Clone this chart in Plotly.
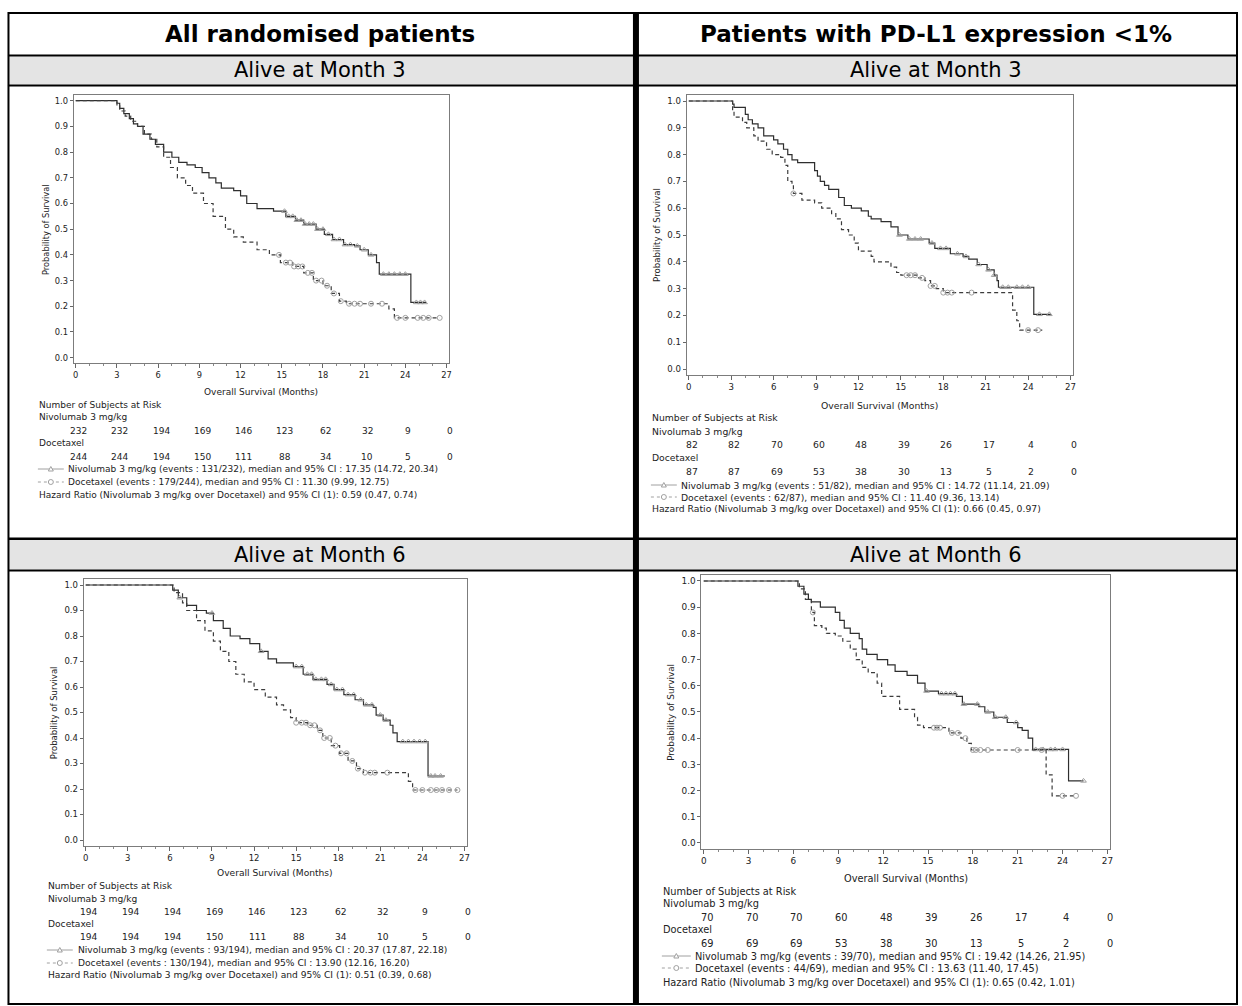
import numpy as np
import plotly.graph_objects as go

W, H = 1242, 1006

# ---------------- data ----------------
months = [0, 3, 6, 9, 12, 15, 18, 21, 24, 27]
yticks = [0.0, 0.1, 0.2, 0.3, 0.4, 0.5, 0.6, 0.7, 0.8, 0.9, 1.0]

col_headers = ["All randomised patients", "Patients with PD-L1 expression &lt;1%"]
row_headers = ["Alive at Month 3", "Alive at Month 6"]

# --- top-left: all randomised, alive at month 3
tl_niv_t = [0, 3.0, 3.2, 3.5, 3.9, 4.2, 4.5, 4.9, 5.4, 5.8, 6.4, 7.0, 7.5, 8.1, 8.7, 9.2, 9.7, 10.2, 10.6,
            11.5, 12.0, 12.45, 13.2, 14.4, 15.3, 16.0, 16.6, 17.5, 18.1, 18.7, 19.5, 20.3, 20.7, 21.3, 21.9,
            22.1, 24.4, 25.5]
tl_niv_s = [1.0, 0.99, 0.97, 0.95, 0.93, 0.91, 0.90, 0.87, 0.85, 0.83, 0.80, 0.78, 0.76, 0.75, 0.74, 0.72,
            0.70, 0.68, 0.66, 0.65, 0.63, 0.60, 0.58, 0.57, 0.55, 0.535, 0.52, 0.50, 0.48, 0.46, 0.44, 0.435,
            0.42, 0.40, 0.37, 0.325, 0.215, 0.215]
tl_niv_c = [15.2, 15.5, 15.8, 16.1, 16.4, 16.7, 17.0, 17.3, 17.6, 18.0, 18.4, 18.8, 19.2, 19.6, 20.0, 20.5,
            21.0, 21.5, 22.4, 22.8, 23.2, 23.6, 24.0, 24.8, 25.1, 25.4]
tl_doc_t = [0, 3.0, 3.2, 3.6, 4.0, 4.5, 5.0, 5.5, 5.9, 6.4, 6.9, 7.4, 8.0, 8.5, 9.3, 10.0, 10.9, 11.5, 12.2,
            13.2, 14.1, 14.9, 15.8, 16.6, 17.3, 18.0, 18.6, 19.2, 19.7, 22.8, 23.2, 26.5]
tl_doc_s = [1.0, 0.98, 0.96, 0.94, 0.92, 0.90, 0.87, 0.85, 0.82, 0.78, 0.74, 0.70, 0.67, 0.64, 0.60, 0.55,
            0.50, 0.47, 0.45, 0.42, 0.40, 0.37, 0.355, 0.33, 0.30, 0.28, 0.25, 0.22, 0.21, 0.19, 0.155, 0.155]
tl_doc_c = [14.8, 15.3, 15.6, 15.9, 16.2, 16.5, 16.9, 17.2, 17.5, 17.9, 18.3, 18.8, 19.3, 19.9, 20.3, 20.7,
            21.5, 22.3, 23.4, 24.0, 24.9, 25.3, 25.7, 26.5]
tl_niv_risk = [232, 232, 194, 169, 146, 123, 62, 32, 9, 0]
tl_doc_risk = [244, 244, 194, 150, 111, 88, 34, 10, 5, 0]
tl_leg = ["Nivolumab 3 mg/kg (events : 131/232), median and 95% CI : 17.35 (14.72, 20.34)",
          "Docetaxel (events : 179/244), median and 95% CI : 11.30 (9.99, 12.75)",
          "Hazard Ratio (Nivolumab 3 mg/kg over Docetaxel) and 95% CI (1): 0.59 (0.47, 0.74)"]

# --- top-right: PD-L1 <1%, alive at month 3
tr_niv_t = [0, 3.1, 3.2, 4.0, 4.2, 4.5, 4.9, 5.3, 6.0, 6.3, 6.7, 7.0, 7.3, 7.7, 8.9, 9.1, 9.3, 9.6, 9.9, 10.6,
            11.0, 11.5, 12.2, 12.7, 12.9, 13.6, 14.3, 14.8, 15.5, 17.0, 17.4, 18.5, 19.4, 19.8, 20.4, 21.1,
            21.6, 21.8, 21.9, 24.4, 25.6]
tr_niv_s = [1.0, 0.988, 0.976, 0.95, 0.93, 0.915, 0.90, 0.87, 0.855, 0.84, 0.82, 0.80, 0.78, 0.77, 0.74,
            0.72, 0.70, 0.685, 0.67, 0.64, 0.61, 0.60, 0.59, 0.57, 0.56, 0.55, 0.53, 0.50, 0.485, 0.47, 0.45,
            0.43, 0.42, 0.41, 0.39, 0.37, 0.35, 0.33, 0.305, 0.204, 0.204]
tr_niv_c = [14.9, 15.6, 16.0, 16.4, 17.2, 17.8, 18.2, 19.0, 19.6, 20.5, 21.2, 21.6, 22.2, 22.6, 23.2, 23.6,
            24.0, 24.8, 25.5]
tr_doc_t = [0, 3.1, 3.2, 3.8, 4.1, 4.6, 4.9, 5.5, 5.9, 6.5, 6.8, 7.0, 7.3, 7.4, 8.0, 8.9, 9.4, 10.1, 10.4,
            10.8, 11.3, 11.7, 12.0, 12.9, 13.1, 14.3, 14.7, 15.0, 16.2, 16.7, 17.1, 17.5, 18.0, 22.9, 23.2,
            23.4, 25.0]
tr_doc_s = [1.0, 0.96, 0.94, 0.92, 0.90, 0.87, 0.85, 0.82, 0.80, 0.79, 0.76, 0.70, 0.69, 0.655, 0.63, 0.62,
            0.60, 0.58, 0.56, 0.52, 0.50, 0.47, 0.44, 0.42, 0.40, 0.38, 0.36, 0.35, 0.34, 0.33, 0.31, 0.30,
            0.285, 0.22, 0.18, 0.145, 0.145]
tr_doc_c = [7.4, 15.4, 15.7, 16.0, 16.5, 17.1, 17.4, 18.0, 18.3, 18.6, 20.0, 24.0, 24.7]
tr_niv_risk = [82, 82, 70, 60, 48, 39, 26, 17, 4, 0]
tr_doc_risk = [87, 87, 69, 53, 38, 30, 13, 5, 2, 0]
tr_leg = ["Nivolumab 3 mg/kg (events : 51/82), median and 95% CI : 14.72 (11.14, 21.09)",
          "Docetaxel (events : 62/87), median and 95% CI : 11.40 (9.36, 13.14)",
          "Hazard Ratio (Nivolumab 3 mg/kg over Docetaxel) and 95% CI (1): 0.66 (0.45, 0.97)"]

# --- bottom-left: all randomised, alive at month 6
bl_niv_t = [0, 6.2, 6.6, 7.2, 7.9, 8.6, 9.1, 9.8, 10.3, 11.0, 11.7, 12.4, 13.0, 13.6, 14.8, 15.5, 16.2, 17.2,
            17.7, 18.4, 19.2, 19.8, 20.5, 20.7, 21.2, 21.7, 21.9, 22.2, 24.4, 25.6]
bl_niv_s = [1.0, 0.98, 0.95, 0.92, 0.90, 0.89, 0.86, 0.83, 0.80, 0.79, 0.77, 0.74, 0.71, 0.695, 0.68, 0.65,
            0.63, 0.61, 0.59, 0.57, 0.55, 0.53, 0.52, 0.49, 0.47, 0.45, 0.42, 0.386, 0.251, 0.251]
bl_niv_c = [6.7, 9.0, 12.5, 15.0, 15.4, 15.8, 16.1, 16.4, 16.8, 17.1, 17.5, 17.9, 18.3, 18.7, 19.1, 19.6,
            20.0, 20.4, 21.0, 21.4, 22.6, 23.0, 23.4, 23.8, 24.2, 24.6, 24.9, 25.3]
bl_doc_t = [0, 6.3, 6.9, 7.2, 7.9, 8.5, 9.1, 9.6, 10.2, 10.7, 11.3, 12.0, 12.8, 13.6, 14.1, 14.6, 15.0, 15.8,
            16.5, 16.9, 17.5, 18.1, 18.7, 19.3, 19.8, 23.0, 23.3, 26.5]
bl_doc_s = [1.0, 0.97, 0.93, 0.90, 0.86, 0.82, 0.78, 0.74, 0.70, 0.65, 0.62, 0.59, 0.56, 0.53, 0.51, 0.48,
            0.46, 0.45, 0.43, 0.40, 0.37, 0.34, 0.31, 0.28, 0.264, 0.23, 0.196, 0.196]
bl_doc_c = [15.0, 15.4, 15.7, 16.0, 16.3, 16.7, 17.0, 17.4, 17.8, 18.2, 18.6, 19.0, 19.4, 19.9, 20.3, 20.6,
            21.5, 23.5, 24.0, 24.6, 25.0, 25.4, 25.9, 26.5]
bl_niv_risk = [194, 194, 194, 169, 146, 123, 62, 32, 9, 0]
bl_doc_risk = [194, 194, 194, 150, 111, 88, 34, 10, 5, 0]
bl_leg = ["Nivolumab 3 mg/kg (events : 93/194), median and 95% CI : 20.37 (17.87, 22.18)",
          "Docetaxel (events : 130/194), median and 95% CI : 13.90 (12.16, 16.20)",
          "Hazard Ratio (Nivolumab 3 mg/kg over Docetaxel) and 95% CI (1): 0.51 (0.39, 0.68)"]

# --- bottom-right: PD-L1 <1%, alive at month 6
br_niv_t = [0, 6.3, 6.7, 7.0, 7.2, 7.8, 8.8, 9.1, 9.4, 9.8, 10.4, 10.6, 10.9, 11.6, 12.3, 12.8, 13.6, 14.3,
            14.8, 15.7, 16.9, 17.3, 18.4, 18.8, 19.4, 20.3, 21.0, 21.3, 21.7, 22.0, 24.4, 25.4]
br_niv_s = [1.0, 0.98, 0.95, 0.93, 0.92, 0.90, 0.88, 0.85, 0.82, 0.80, 0.78, 0.74, 0.72, 0.70, 0.68, 0.655,
            0.64, 0.61, 0.58, 0.57, 0.56, 0.53, 0.52, 0.50, 0.48, 0.46, 0.44, 0.43, 0.40, 0.357, 0.237, 0.237]
br_niv_c = [14.9, 15.9, 16.2, 16.5, 16.8, 17.4, 18.3, 19.0, 19.5, 20.2, 20.9, 22.2, 22.7, 23.2, 23.5, 24.0,
            25.4]
br_doc_t = [0, 6.4, 6.8, 7.2, 7.4, 7.9, 8.2, 8.8, 9.3, 9.8, 10.2, 10.6, 11.0, 11.6, 11.9, 13.1, 14.1, 14.3,
            14.7, 16.4, 17.2, 17.6, 17.9, 22.9, 23.3, 24.9]
br_doc_s = [1.0, 0.97, 0.93, 0.88, 0.83, 0.82, 0.80, 0.79, 0.77, 0.74, 0.70, 0.67, 0.65, 0.61, 0.56, 0.51,
            0.48, 0.45, 0.44, 0.42, 0.40, 0.38, 0.355, 0.26, 0.18, 0.18]
br_doc_c = [7.3, 15.4, 15.6, 15.8, 16.6, 17.0, 17.5, 18.0, 18.2, 18.5, 19.0, 21.0, 22.6, 24.0, 24.9]
br_niv_risk = [70, 70, 70, 60, 48, 39, 26, 17, 4, 0]
br_doc_risk = [69, 69, 69, 53, 38, 30, 13, 5, 2, 0]
br_leg = ["Nivolumab 3 mg/kg (events : 39/70), median and 95% CI : 19.42 (14.26, 21.95)",
          "Docetaxel (events : 44/69), median and 95% CI : 13.63 (11.40, 17.45)",
          "Hazard Ratio (Nivolumab 3 mg/kg over Docetaxel) and 95% CI (1): 0.65 (0.42, 1.01)"]

arm_names = ["Nivolumab 3 mg/kg", "Docetaxel"]
risk_title = "Number of Subjects at Risk"
x_title = "Overall Survival (Months)"
y_title = "Probability of Survival"

# ---------------- layout helpers ----------------
def fx(x):
    return x / W


def fy(y):
    return 1 - y / H


CHART_FONT = "DejaVu Sans, Verdana, sans-serif"
TXT = "#222222"
XR = (-0.15, 27.15)
YR = (-0.022, 1.022)

panels = [
    dict(niv=(tl_niv_t, tl_niv_s, tl_niv_c), doc=(tl_doc_t, tl_doc_s, tl_doc_c),
         nr=tl_niv_risk, dr=tl_doc_risk, leg=tl_leg,
         x0=75, x27=447, y1=100.7, y0=357.7, fs=9.0, tfs=8.3, tx=37, ytx=45,
         rows=dict(title=392, nsr=405, niv=417, nivn=431, doc=443, docn=457, l1=469, l2=482, hr=495),
         lx=(37, 63, 66)),
    dict(niv=(tr_niv_t, tr_niv_s, tr_niv_c), doc=(tr_doc_t, tr_doc_s, tr_doc_c),
         nr=tr_niv_risk, dr=tr_doc_risk, leg=tr_leg,
         x0=690, x27=1073, y1=101, y0=369, fs=9.25, tfs=8.6, tx=652, ytx=658,
         rows=dict(title=405, nsr=417, niv=432, nivn=444, doc=458, docn=471, l1=485, l2=497, hr=509),
         lx=(652, 678, 681)),
    dict(niv=(bl_niv_t, bl_niv_s, bl_niv_c), doc=(bl_doc_t, bl_doc_s, bl_doc_c),
         nr=bl_niv_risk, dr=bl_doc_risk, leg=bl_leg,
         x0=85, x27=465, y1=585, y0=840, fs=9.15, tfs=8.5, tx=46, ytx=53,
         rows=dict(title=873, nsr=886, niv=899, nivn=912, doc=924, docn=937, l1=950, l2=963, hr=975),
         lx=(46, 72, 76)),
    dict(niv=(br_niv_t, br_niv_s, br_niv_c), doc=(br_doc_t, br_doc_s, br_doc_c),
         nr=br_niv_risk, dr=br_doc_risk, leg=br_leg,
         x0=705, x27=1110, y1=581, y0=843, fs=9.8, tfs=8.9, tx=663, ytx=672,
         rows=dict(title=878, nsr=891, niv=903, nivn=917, doc=929, docn=943, l1=956, l2=968, hr=982),
         lx=(663, 692, 695)),
]


def step_at(t, s, tc):
    t = np.asarray(t)
    s = np.asarray(s)
    idx = np.searchsorted(t, np.asarray(tc), side="right") - 1
    return s[np.clip(idx, 0, len(s) - 1)]


fig = go.Figure()
annotations = []
shapes = []
layout_axes = {}

for i, p in enumerate(panels, start=1):
    xa = "x" if i == 1 else f"x{i}"
    ya = "y" if i == 1 else f"y{i}"
    ppm = (p["x27"] - p["x0"]) / 27.0
    ppu = p["y0"] - p["y1"]
    left = p["x0"] + XR[0] * ppm
    right = p["x0"] + XR[1] * ppm
    top = p["y0"] - YR[1] * ppu
    bottom = p["y0"] - YR[0] * ppu

    common = dict(showgrid=False, zeroline=False, showline=True, mirror=True,
                  linecolor="#7c7c7c", linewidth=1, ticks="outside", tickcolor="#666666",
                  tickfont=dict(family=CHART_FONT, size=p["tfs"], color=TXT), fixedrange=True)
    layout_axes["xaxis" if i == 1 else f"xaxis{i}"] = dict(
        domain=[fx(left), fx(right)], range=list(XR), anchor=ya,
        tickmode="array", tickvals=months, ticktext=[str(m) for m in months], ticklen=4,
        minor=dict(dtick=1, tick0=0, ticks="outside", ticklen=2, tickcolor="#888888"),
        **common)
    layout_axes["yaxis" if i == 1 else f"yaxis{i}"] = dict(
        domain=[fy(bottom), fy(top)], range=list(YR), anchor=xa,
        tickmode="array", tickvals=yticks, ticktext=[f"{v:.1f}" for v in yticks], ticklen=3,
        **common)

    # curves
    for arm, dash, sym, col in [("niv", "solid", "triangle-up-open", "#2e2e2e"),
                                ("doc", "4px,3px", "circle-open", "#3c3c3c")]:
        t, s, c = p[arm]
        fig.add_trace(go.Scatter(x=t, y=s, mode="lines", line=dict(shape="hv", color=col, width=1.2, dash=dash),
                                 xaxis=xa, yaxis=ya, showlegend=False, hoverinfo="skip"))
        fig.add_trace(go.Scatter(x=c, y=step_at(t, s, c), mode="markers",
                                 marker=dict(symbol=sym, size=5, color="#a0a0a0", line=dict(width=1)),
                                 xaxis=xa, yaxis=ya, showlegend=False, hoverinfo="skip"))

    f = dict(family=CHART_FONT, size=p["fs"], color=TXT)
    r = p["rows"]
    base = dict(showarrow=False, borderpad=0, yanchor="middle")
    # axis titles
    annotations.append(dict(x=fx((p["x0"] + p["x27"]) / 2), y=fy(r["title"]), xref="paper", yref="paper",
                            text=x_title, font=f, xanchor="center", **base))
    annotations.append(dict(x=fx(p["ytx"]), y=fy((p["y0"] + p["y1"]) / 2), xref="paper", yref="paper",
                            text=y_title, textangle=-90,
                            font=dict(family=CHART_FONT, size=p["tfs"], color=TXT),
                            xanchor="center", **base))
    # risk table
    for key, txt in [("nsr", risk_title), ("niv", arm_names[0]), ("doc", arm_names[1]), ("hr", p["leg"][2])]:
        annotations.append(dict(x=fx(p["tx"]), y=fy(r[key]), xref="paper", yref="paper", text=txt,
                                font=f, xanchor="left", **base))
    for key, vals in [("nivn", p["nr"]), ("docn", p["dr"])]:
        for m, v in zip(months, vals):
            annotations.append(dict(x=m, y=fy(r[key]), xref=xa, yref="paper", text=str(v),
                                    font=f, xanchor="center", xshift=3, **base))
    # legend entries
    lx0, lx1, ltx = p["lx"]
    for key, txt, dash, sym in [("l1", p["leg"][0], "solid", "tri"), ("l2", p["leg"][1], "dot", "circ")]:
        yy = r[key]
        shapes.append(dict(type="line", xref="paper", yref="paper", x0=fx(lx0), x1=fx(lx1), y0=fy(yy), y1=fy(yy),
                           line=dict(color="#a0a0a0", width=1, dash=dash)))
        cx = (lx0 + lx1) / 2
        if sym == "tri":
            path = f"M {fx(cx - 2.5)} {fy(yy + 2)} L {fx(cx + 2.5)} {fy(yy + 2)} L {fx(cx)} {fy(yy - 2.5)} Z"
            shapes.append(dict(type="path", xref="paper", yref="paper", path=path, fillcolor="white",
                               line=dict(color="#a0a0a0", width=1)))
        else:
            shapes.append(dict(type="circle", xref="paper", yref="paper", x0=fx(cx - 2.5), x1=fx(cx + 2.5),
                               y0=fy(yy + 2.5), y1=fy(yy - 2.5), fillcolor="white",
                               line=dict(color="#a0a0a0", width=1)))
        annotations.append(dict(x=fx(ltx), y=fy(yy), xref="paper", yref="paper", text=txt,
                                font=f, xanchor="left", **base))

# ---------------- table frame ----------------
TL_X, TR_X = 7, 1240
GREY = "#e4e4e4"
for y_a, y_b in [(56.5, 84.5), (539.5, 569.5)]:
    shapes.append(dict(type="rect", xref="paper", yref="paper", x0=fx(TL_X), x1=fx(TR_X), y0=fy(y_b), y1=fy(y_a),
                       fillcolor=GREY, line=dict(width=0), layer="below"))
for yy, wdt in [(13, 2), (55.5, 2), (85.5, 2), (538.8, 2.5), (570.5, 2), (1004, 2)]:
    shapes.append(dict(type="line", xref="paper", yref="paper", x0=fx(TL_X), x1=fx(TR_X), y0=fy(yy), y1=fy(yy),
                       line=dict(color="black", width=wdt)))
for xx, wdt in [(TL_X + 0.5, 2), (637, 6), (TR_X, 2)]:
    shapes.append(dict(type="line", xref="paper", yref="paper", x0=fx(xx), x1=fx(xx), y0=fy(12), y1=fy(1005),
                       line=dict(color="black", width=wdt)))

HEAD_FONT = "DejaVu Sans, Verdana, sans-serif"
for cx, txt in zip([320.5, 938.5], col_headers):
    annotations.append(dict(x=fx(cx), y=fy(34), xref="paper", yref="paper", text=f"<b>{txt}</b>", showarrow=False,
                            font=dict(family=HEAD_FONT, size=23, color="black"), xanchor="center",
                            yanchor="middle"))
for cy, txt in zip([70.5, 555], row_headers):
    for cx in [320.5, 938.5]:
        annotations.append(dict(x=fx(cx), y=fy(cy), xref="paper", yref="paper", text=txt, showarrow=False,
                                font=dict(family=HEAD_FONT, size=21, color="black"),
                                xanchor="center", yanchor="middle"))

fig.update_layout(width=W, height=H, margin=dict(l=0, r=0, t=0, b=0), paper_bgcolor="white",
                  plot_bgcolor="white", showlegend=False, annotations=annotations, shapes=shapes,
                  **layout_axes)

fig.write_html("out.html", include_plotlyjs=True, config={"displayModeBar": False})
